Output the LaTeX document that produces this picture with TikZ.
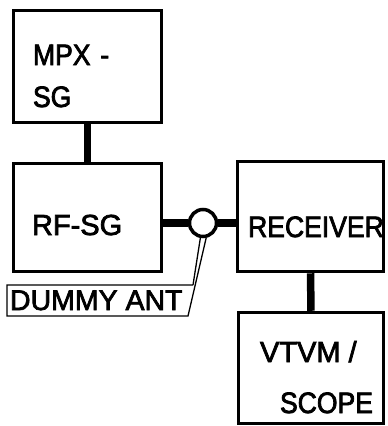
\documentclass[tikz,border=0pt]{standalone}
\usepackage{fontspec}
\setmainfont{Liberation Sans}
\newfontfamily\lett[FakeStretch=0.9,FakeBold=2.5]{Liberation Sans}
\newfontfamily\lettwide[FakeBold=2.5]{Liberation Sans}
\usetikzlibrary{positioning,calc}
\begin{document}
\begin{tikzpicture}[x=1pt,y=-1pt,
		box/.style={draw, line width=3.5pt, minimum width=#1},
		conn/.style={line width=7.5pt},
		lbl/.style={inner sep=0,outer sep=0,anchor=base west,font=\lett\fontsize{29.5}{30}\selectfont}]
		\useasboundingbox (0,0) rectangle (388,426);
		\node[box=148, minimum height=112] (mpx) at (87.5, 66.5) {};
		\node[lbl] (mpx_1) at (33, 65) {MPX\,\,-};
		\node[lbl] (mpx_2) at (33, 107) {SG};
		\node[box=148, minimum height=108] (rf) at (87.5, 217.5) {};
		\node[lbl, font=\lettwide\fontsize{29}{30}\selectfont] (rf_1) at (32, 235) {RF-SG};
		\node[box=146, minimum height=110] (rec) at (310.5, 216.5) {};
		\node[lbl, anchor=base] (rec_1) at (316, 237) {RECEIVER};
		\node[box=145, minimum height=111] (vtvm) at (311, 368) {};
		\node[lbl, font=\lettwide\fontsize{29}{30}\selectfont] (vtvm_1) at (260, 362) {VTVM /};
		\node[lbl] (vtvm_2) at (280, 413) {SCOPE};
		\node[draw, circle, line width=3.5pt, minimum size=27, inner sep=0] (ant) at (203, 223) {};
		% dummy antenna tag
		\coordinate (tag_tl) at (7, 285);
		\coordinate (tag_tr) at (193, 285);
		\coordinate (tag_br) at (188, 316);
		\coordinate (tag_bl) at (7, 316);
		\draw[line width=1.3pt] (tag_tr) -- (tag_tl) -- (tag_bl) -- (tag_br) -- (ant.-78);
		\draw[line width=1.3pt] (tag_tr) -- (ant.-100);
		\node[lbl, font=\lettwide\fontsize{28.5}{30}\selectfont] (tag) at (10, 310) {DUMMY ANT};
		\draw[conn] (mpx) -- (rf);
		\draw[conn] (rf.east |- ant) -- (ant);
		\draw[conn] (ant) -- (rec.west |- ant);
		\draw[conn] (rec) -- (vtvm);
	\end{tikzpicture}
\end{document}
